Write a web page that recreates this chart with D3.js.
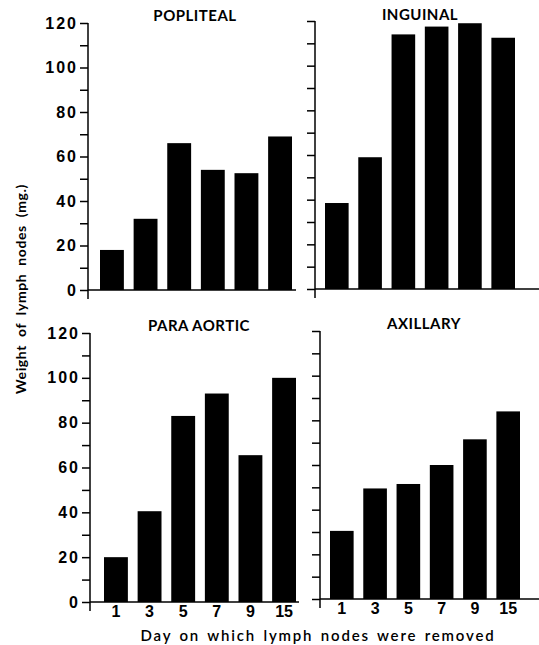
<!DOCTYPE html>
<html>
<head>
<meta charset="utf-8">
<script src="https://cdn.jsdelivr.net/npm/d3@7"></script>
<style>
  body { margin: 0; background: #fff; }
  svg { display: block; font-family: Lato, "DejaVu Sans", sans-serif; }
</style>
</head>
<body>
<svg width="539" height="645"></svg>
<script>
var days = ["1", "3", "5", "7", "9", "15"];
var popliteal = [18, 32, 66, 54, 52.5, 69];
var inguinal = [38.5, 59, 114, 117.5, 119, 112.5];
var paraAortic = [20, 40.5, 83, 93, 65.5, 100];
var axillary = [30.5, 49.5, 51.5, 60, 71.5, 84];
var yTicks = [0, 10, 20, 30, 40, 50, 60, 70, 80, 90, 100, 110, 120];

var svg = d3.select("svg");

// one entry per panel: where its axes sit
var panels = [
  {title: "POPLITEAL", values: popliteal, ax: 88, base: 290, top: 23, x0: 100, x1: 292, end: 296, labelY: true, labelX: false, tx: 195, ty: 21},
  {title: "INGUINAL", values: inguinal, ax: 315, base: 289, top: 21, x0: 325, x1: 515, end: 539, labelY: false, labelX: false, tx: 420, ty: 20},
  {title: "PARA AORTIC", values: paraAortic, ax: 90, base: 602, top: 333, x0: 104, x1: 296, end: 299, labelY: true, labelX: true, tx: 199, ty: 331},
  {title: "AXILLARY", values: axillary, ax: 320, base: 599, top: 331, x0: 330, x1: 520, end: 539, labelY: false, labelX: true, tx: 424, ty: 329}
];

panels.forEach(function(p) {
  var x = d3.scaleBand().domain(days).range([p.x0, p.x1]).paddingInner(0.29).paddingOuter(0);
  var y = d3.scaleLinear().domain([0, 120]).range([p.base, p.top]);
  var g = svg.append("g");

  g.selectAll("rect")
    .data(p.values)
    .enter().append("rect")
    .attr("x", function(d, i) { return x(days[i]); })
    .attr("y", function(d) { return y(d); })
    .attr("width", x.bandwidth())
    .attr("height", function(d) { return p.base - y(d); })
    .style("fill", "#000");

  // y axis
  var yAxis = d3.axisLeft(y)
    .tickValues(yTicks)
    .tickSize(8)
    .tickSizeOuter(0)
    .tickFormat(function(d) { return p.labelY && d % 20 === 0 ? d : ""; });
  var ya = g.append("g").attr("transform", "translate(" + p.ax + ",0)").call(yAxis);
  ya.select(".domain").remove();
  ya.selectAll("line").style("stroke", "#000").style("stroke-width", 1.5);
  ya.selectAll("text")
    .attr("x", -10)
    .style("font-size", "16px")
    .style("font-weight", "700")
    .style("letter-spacing", "2px")
    .style("fill", "#000");
  g.append("line")
    .attr("x1", p.ax).attr("x2", p.ax)
    .attr("y1", p.top).attr("y2", p.base + 9)
    .style("stroke", "#000").style("stroke-width", 1.5);

  // x axis
  g.append("line")
    .attr("x1", p.ax).attr("x2", p.end)
    .attr("y1", p.base).attr("y2", p.base)
    .style("stroke", "#000").style("stroke-width", 1.5);
  if (p.labelX) {
    var xAxis = d3.axisBottom(x).tickSize(0).tickPadding(4);
    var xa = g.append("g").attr("transform", "translate(0," + p.base + ")").call(xAxis);
    xa.select(".domain").remove();
    xa.selectAll("text")
      .style("font-size", "16px")
      .style("font-weight", "700")
      .style("fill", "#000");
  }

  g.append("text")
    .attr("x", p.tx).attr("y", p.ty)
    .attr("text-anchor", "middle")
    .style("font-size", "15px")
    .style("font-weight", "700")
    .style("letter-spacing", "0.5px")
    .text(p.title);
});

svg.append("text")
  .attr("transform", "translate(26,289) rotate(-90)")
  .attr("text-anchor", "middle")
  .style("font-size", "14px")
  .style("font-weight", "700")
  .style("word-spacing", "4px")
  .style("letter-spacing", "0.6px")
  .text("Weight of lymph nodes (mg.)");

svg.append("text")
  .attr("x", 318).attr("y", 641)
  .attr("text-anchor", "middle")
  .style("font-size", "15px")
  .style("font-weight", "600")
  .style("word-spacing", "2px")
  .style("letter-spacing", "1.8px")
  .text("Day on which lymph nodes were removed");
</script>
</body>
</html>
